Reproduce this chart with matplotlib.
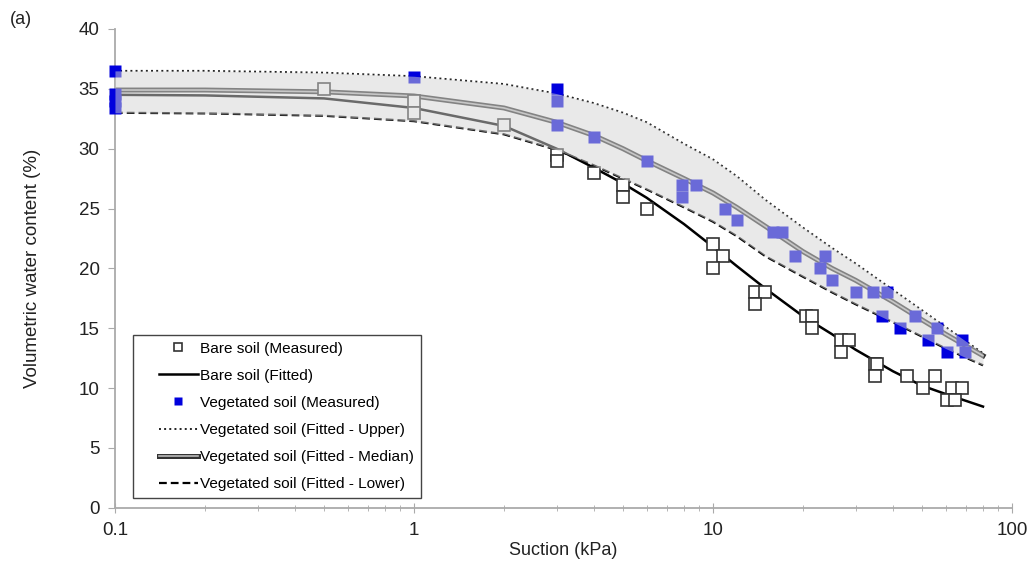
import numpy as np
import matplotlib
matplotlib.use('Agg')
import matplotlib.pyplot as plt
import matplotlib.patheffects as pe
from matplotlib.lines import Line2D
from matplotlib.legend_handler import HandlerLine2D
from matplotlib.ticker import FixedLocator, FuncFormatter, LogLocator, NullFormatter

plt.rcParams['font.family'] = ['Liberation Sans', 'DejaVu Sans']

# measured points
bare_x = [0.5, 1, 1, 2, 3, 3, 4, 5, 5, 6, 10, 10.8, 10, 13.8, 14.9, 13.8,
          20.5, 21.5, 21.5, 26.8, 28.4, 26.8, 34.8, 35.5, 34.8, 44.7, 55.2, 50.5,
          63, 68, 60.6, 64.6]
bare_y = [35, 34, 33, 32, 29.5, 29, 28, 27, 26, 25, 22, 21, 20, 18, 18, 17,
          16, 16, 15, 14, 14, 13, 12, 12, 11, 11, 11, 10, 10, 10, 9, 9]

veg_x = [0.1, 0.1, 0.1, 0.1, 1, 3, 3, 3, 4, 6, 7.9, 7.9, 8.8, 11, 12, 15.9, 17,
         18.8, 23.7, 22.8, 25, 30, 34.3, 38.2, 36.7, 42.2, 47.4, 52.4, 56.1, 60.6,
         68, 69.7]
veg_y = [36.5, 34.6, 34, 33.4, 36, 35, 34, 32, 31, 29, 27, 26, 27, 25, 24, 23, 23,
         21, 21, 20, 19, 18, 18, 18, 16, 15, 16, 14, 15, 13, 14, 13]

# fitted curves
fit_x = [0.1, 0.2, 0.5, 1, 2, 3, 4, 5, 6, 8, 10, 12, 15, 20, 25, 30, 40, 50, 60, 80]
bare_fit = [34.5, 34.45, 34.2, 33.4, 31.9, 30.0, 28.4, 27.1, 25.9, 23.7, 21.8, 20.2,
            18.3, 16.0, 14.5, 13.2, 11.4, 10.2, 9.5, 8.45]
veg_upper = [36.5, 36.5, 36.35, 36.05, 35.4, 34.6, 33.8, 33.0, 32.2, 30.4, 29.1, 27.7,
             25.7, 23.4, 21.7, 20.4, 18.2, 16.5, 15.1, 12.9]
veg_median = [34.9, 34.9, 34.75, 34.4, 33.4, 32.2, 31.1, 30.0, 29.0, 27.5, 26.3, 25.1,
              23.5, 21.4, 20.0, 19.0, 17.2, 15.7, 14.5, 12.7]
veg_lower = [33.0, 32.95, 32.75, 32.3, 31.2, 29.9, 28.6, 27.5, 26.6, 25.1, 23.9, 22.7,
             21.0, 19.3, 18.0, 17.0, 15.5, 14.3, 13.3, 11.9]

fig = plt.figure(figsize=(10.32, 5.64), dpi=100)
ax = fig.add_axes([0.1114, 0.0998, 0.9806 - 0.1114, 0.9486 - 0.0998])

ax.plot(bare_x, bare_y, 's', ms=8.3, mfc='white', mec='#333333', mew=1.2,
        ls='none', clip_on=False, zorder=3, label='Bare soil (Measured)')
ax.plot(fit_x, bare_fit, '-', color='black', lw=1.8, zorder=2,
        label='Bare soil (Fitted)')
ax.plot(veg_x, veg_y, 's', ms=8.6, mfc='#0000dd', mec='none', ls='none',
        clip_on=False, zorder=3, label='Vegetated soil (Measured)')
ax.plot(fit_x, veg_upper, ':', color='#222222', lw=1.4, zorder=2,
        label='Vegetated soil (Fitted - Upper)')
ax.plot(fit_x, veg_median, '-', color='#bbbbbb', lw=1.2, zorder=2,
        path_effects=[pe.Stroke(linewidth=3.6, foreground='#333333'), pe.Normal()],
        label='Vegetated soil (Fitted - Median)')
ax.plot(fit_x, veg_lower, '--', color='black', lw=1.6, dashes=(3.5, 1.8), zorder=2,
        label='Vegetated soil (Fitted - Lower)')

# shaded band on top, so it tints what lies under it
ax.fill_between(fit_x, veg_lower, veg_upper, color='#d4d4d4', alpha=0.5, lw=0,
                zorder=4)

ax.set_xscale('log')
ax.set_xlim(0.1, 100)
ax.set_ylim(0, 40)
ax.set_yticks(np.arange(0, 41, 5))
ax.xaxis.set_major_locator(FixedLocator([0.1, 1, 10, 100]))
ax.xaxis.set_major_formatter(FuncFormatter(lambda v, p: '%g' % v))
ax.xaxis.set_minor_locator(LogLocator(base=10, subs=np.arange(2, 10)))
ax.xaxis.set_minor_formatter(NullFormatter())

for s in ['top', 'right']:
    ax.spines[s].set_visible(False)
for s in ['left', 'bottom']:
    ax.spines[s].set_color('#aaaaaa')
    ax.spines[s].set_linewidth(1.3)

ax.tick_params(axis='y', direction='out', length=5, color='#aaaaaa',
               labelsize=13.5, labelcolor='#222222', pad=6)
ax.tick_params(axis='x', which='major', direction='inout', length=7,
               color='#aaaaaa', labelsize=13.5, labelcolor='#222222', pad=7)
ax.tick_params(axis='x', which='minor', direction='inout', length=4,
               color='#aaaaaa')

ax.set_xlabel('Suction (kPa)', fontsize=13, color='#222222')
ax.set_ylabel('Volumetric water content (%)', fontsize=13.5, color='#222222')
ax.xaxis.set_label_coords(0.5, -0.072)
ax.yaxis.set_label_coords(-0.083, 0.5)

fig.text(0.01, 0.965, '(a)', fontsize=13, color='#222222', va='center')

leg = ax.legend(loc='lower left', bbox_to_anchor=(0.02, 0.02), borderaxespad=0,
                fancybox=False, framealpha=1, edgecolor='#444444',
                fontsize=11.1, handlelength=3.75, handletextpad=0.15,
                labelspacing=0.85, markerscale=0.72, borderpad=0.45,
                handler_map={Line2D: HandlerLine2D(xpad=1.25)})
leg.get_frame().set_linewidth(1.0)
leg.set_zorder(6)

fig.savefig('out.png', dpi=100)
